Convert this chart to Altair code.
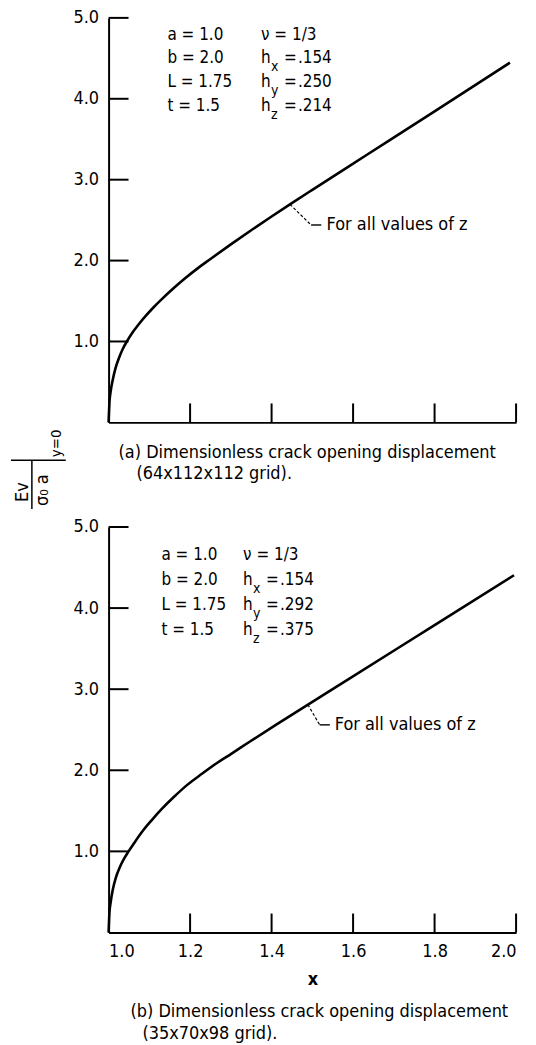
import altair as alt
import pandas as pd

FONT = "Liberation Sans Narrow, DejaVu Sans Condensed, Roboto Condensed, Arial Narrow, sans-serif"

# Crack opening displacement along y = 0, panel (a): 64x112x112 grid
x_a = [1.000, 1.002, 1.005, 1.010, 1.017, 1.025, 1.035, 1.046, 1.060, 1.075,
       1.090, 1.110, 1.130, 1.160, 1.190, 1.220, 1.250, 1.300, 1.350, 1.400,
       1.445, 1.500, 1.633, 1.800, 1.985]
cod_a = [0.00, 0.24, 0.38, 0.52, 0.67, 0.79, 0.91, 1.01, 1.12, 1.22,
         1.31, 1.42, 1.52, 1.66, 1.79, 1.91, 2.02, 2.20, 2.375, 2.545,
         2.695, 2.875, 3.305, 3.845, 4.447]

# Panel (b): 35x70x98 grid
x_b = [1.000, 1.002, 1.005, 1.010, 1.018, 1.028, 1.038, 1.049, 1.065, 1.085,
       1.105, 1.130, 1.160, 1.193, 1.230, 1.266, 1.300, 1.347, 1.428, 1.465,
       1.589, 1.800, 1.995]
cod_b = [0.00, 0.24, 0.37, 0.52, 0.68, 0.81, 0.91, 1.00, 1.12, 1.26,
         1.38, 1.52, 1.67, 1.82, 1.96, 2.09, 2.20, 2.355, 2.615, 2.733,
         3.125, 3.79, 4.405]

x_tick_values = [1.2, 1.4, 1.6, 1.8, 2.0]
x_label_values = [1.0, 1.2, 1.4, 1.6, 1.8, 2.0]
y_tick_values = [1.0, 2.0, 3.0, 4.0, 5.0]

params_left = ["a = 1.0", "b = 2.0", "L = 1.75", "t = 1.5"]
nu_text = "\u03bd = 1/3"
h_subs = ["x", "y", "z"]
h_vals_a = [".154", ".250", ".214"]
h_vals_b = [".154", ".292", ".375"]

caption_a = ["(a) Dimensionless crack opening displacement", "(64x112x112 grid)."]
caption_b = ["(b) Dimensionless crack opening displacement", "(35x70x98 grid)."]
leader_text = "For all values of z"

W = 409
H_A = 406
H_B = 407

xscale = alt.Scale(domain=[1.0, 2.0], nice=False, zero=False)
yscale = alt.Scale(domain=[0.0, 5.0], nice=False)


def text_at(s, x, y, size=17, angle=0, align="left"):
    return alt.Chart(pd.DataFrame({"t": [s]})).mark_text(
        font=FONT, fontSize=size, color="black", align=align,
        baseline="middle", angle=angle
    ).encode(x=alt.value(x), y=alt.value(y), text="t:N")


def rule_px(x, x2, y, y2, width=1.5, color="black"):
    return alt.Chart(pd.DataFrame({"k": [0]})).mark_rule(
        color=color, strokeWidth=width
    ).encode(x=alt.value(x), x2=alt.value(x2), y=alt.value(y), y2=alt.value(y2))


def panel(xs, ys, height, show_x_labels, h_vals, col1, col2, top_row, row, leader_pts, text_pt):
    df = pd.DataFrame({"x": xs, "cod": ys})
    xaxis_kw = dict(values=x_label_values, format=".1f", labels=show_x_labels,
                    ticks=False, tickSize=0, grid=False, domainColor="black",
                    domainWidth=2, labelFont=FONT, labelFontSize=18,
                    labelColor="black", labelPadding=10)
    if show_x_labels:
        xaxis_kw.update(title="x", titleFont=FONT, titleFontSize=18,
                        titleFontWeight="bold", titleColor="black", titlePadding=10)
    else:
        xaxis_kw.update(title=None)
    yaxis = alt.Axis(values=y_tick_values, format=".1f", ticks=False, tickSize=0,
                     grid=False, domainColor="black", domainWidth=2,
                     labelFont=FONT, labelFontSize=18, labelColor="black",
                     labelPadding=10, title=None)

    line = alt.Chart(df).mark_line(color="black", strokeWidth=2.6, interpolate="monotone").encode(
        x=alt.X("x:Q", scale=xscale, axis=alt.Axis(**xaxis_kw)),
        y=alt.Y("cod:Q", scale=yscale, axis=yaxis),
    )
    yt = alt.Chart(pd.DataFrame({"v": y_tick_values})).mark_rule(
        color="black", strokeWidth=2
    ).encode(y=alt.Y("v:Q", scale=yscale), x=alt.value(0), x2=alt.value(20))
    xt = alt.Chart(pd.DataFrame({"v": x_tick_values})).mark_rule(
        color="black", strokeWidth=2
    ).encode(x=alt.X("v:Q", scale=xscale), y=alt.value(height), y2=alt.value(height - 19))

    # leader from the curve to the note
    ld = pd.DataFrame({"x": [p[0] for p in leader_pts[:2]], "cod": [p[1] for p in leader_pts[:2]]})
    lh = pd.DataFrame({"x": [p[0] for p in leader_pts[1:]], "cod": [p[1] for p in leader_pts[1:]]})
    lead1 = alt.Chart(ld).mark_line(color="black", strokeWidth=1.2, strokeDash=[3, 2]).encode(
        x=alt.X("x:Q", scale=xscale), y=alt.Y("cod:Q", scale=yscale))
    lead2 = alt.Chart(lh).mark_line(color="black", strokeWidth=1.4).encode(
        x=alt.X("x:Q", scale=xscale), y=alt.Y("cod:Q", scale=yscale))
    note = alt.Chart(pd.DataFrame({"x": [text_pt[0]], "cod": [text_pt[1]], "t": [leader_text]})).mark_text(
        font=FONT, fontSize=18, color="black", align="left", baseline="middle"
    ).encode(x=alt.X("x:Q", scale=xscale), y=alt.Y("cod:Q", scale=yscale), text="t:N")

    layers = [line, yt, xt, lead1, lead2, note]

    # parameter table
    for i, s in enumerate(params_left):
        layers.append(text_at(s, col1, top_row + i * row))
    layers.append(text_at(nu_text, col2, top_row))
    for i, (sub, val) in enumerate(zip(h_subs, h_vals)):
        yy = top_row + (i + 1) * row
        layers.append(text_at("h", col2, yy))
        layers.append(text_at(sub, col2 + 10, yy + 9, size=14))
        layers.append(text_at("=", col2 + 23, yy))
        layers.append(text_at(val, col2 + 37, yy))
    return layers


# top panel: leader points and note location in data units
top_layers = panel(x_a, cod_a, H_A, False, h_vals_a, 59, 153, 17, 23.7,
                   [(1.445, 2.695), (1.497, 2.44), (1.522, 2.44)], (1.535, 2.44))
top_layers += [
    text_at(caption_a[0], 10, H_A + 31, size=18),
    text_at(caption_a[1], 28, H_A + 52, size=18),
    # ordinate label: Ev / (sigma_0 a), evaluated at y = 0
    text_at("Ev", -86, H_A + 70, size=18, angle=270, align="center"),
    rule_px(-77, -77, H_A + 38, H_A + 87, width=1.5),
    text_at("\u03c3\u2080 a", -66, H_A + 68, size=18, angle=270, align="center"),
    rule_px(-98, -43, H_A + 38, H_A + 38, width=1.5),
    text_at("y=0", -53, H_A + 21, size=15, angle=270, align="center"),
    # page frame guide
    rule_px(-108, W + 19, -15, -15, width=1, color="white"),
]
top = alt.layer(*top_layers).properties(width=W, height=H_A)

bot_layers = panel(x_b, cod_b, H_B, True, h_vals_b, 53, 135, 28, 25,
                   [(1.489, 2.81), (1.518, 2.56), (1.543, 2.56)], (1.555, 2.56))
bot_layers += [
    text_at(caption_b[0], 22, H_B + 80, size=18),
    text_at(caption_b[1], 34, H_B + 102, size=18),
    rule_px(-108, W + 19, H_B + 112, H_B + 112, width=1, color="white"),
]
bottom = alt.layer(*bot_layers).properties(width=W, height=H_B)

chart = alt.vconcat(top, bottom, spacing=105, bounds="flush").properties(
    padding=0, background="white"
).configure_view(stroke=None)

chart.save("out.html", embed_options={"renderer": "svg", "actions": False})
